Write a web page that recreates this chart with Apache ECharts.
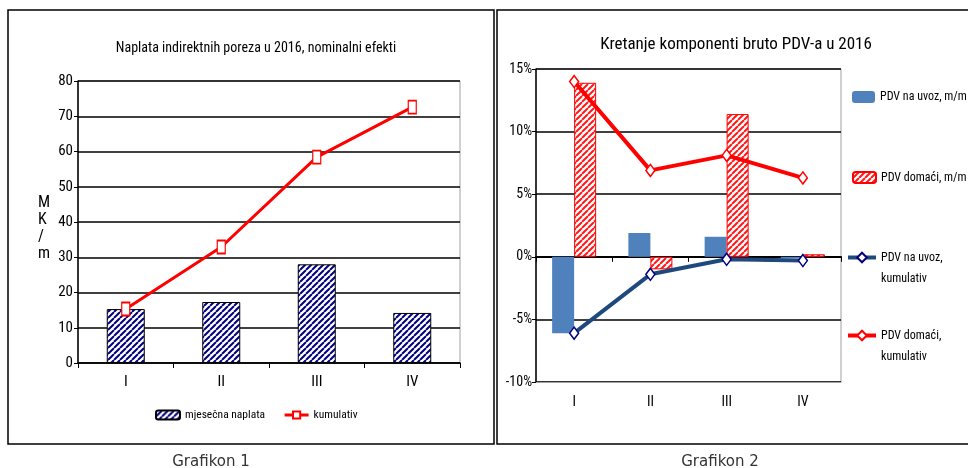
<!DOCTYPE html>
<html>
<head>
<meta charset="utf-8">
<script src="https://cdn.jsdelivr.net/npm/echarts@6/dist/echarts.min.js"></script>
<style>
html,body{margin:0;padding:0;background:#fff;}
#c{width:968px;height:468px;}
</style>
</head>
<body>
<div id="c"></div>
<script>
// ---- data ----
var categories = ['I', 'II', 'III', 'IV'];
var monthlyCollection = [15.3, 17.3, 28.0, 14.2];
var cumulativeCollection = [15.3, 32.9, 58.4, 72.6];
var leftTicks = [0, 80, 10];            // min, max, interval
var importMoM = [-6.1, 1.9, 1.6, -0.1];
var domesticMoM = [13.9, -1.0, 11.4, 0.2];
var importCum = [-6.1, -1.4, -0.2, -0.3];
var domesticCum = [14.0, 6.9, 8.1, 6.3];
var rightTicks = [-10, 15, 5];

var NARROW = "'Roboto Condensed','Liberation Sans',Arial,sans-serif";

function hatch(fg, bg, lw, size) {
  var c = document.createElement('canvas');
  c.width = size; c.height = size;
  var g = c.getContext('2d');
  g.fillStyle = bg; g.fillRect(0, 0, size, size);
  g.strokeStyle = fg; g.lineWidth = lw;
  g.beginPath();
  for (var k = -1; k <= 1; k++) {
    g.moveTo(k * size, size); g.lineTo(k * size + size, 0);
  }
  g.stroke();
  return { image: c, repeat: 'repeat' };
}

var navyHatch = hatch('#000080', '#ffffff', 2, 6);
var redHatch = hatch('#ff1a1a', '#ffffff', 2, 6);

var chart = echarts.init(document.getElementById('c'), null, { renderer: 'canvas' });

var leftLabel = { color: '#000', fontFamily: NARROW, fontSize: 15 };
var rightLabel = { color: '#000', fontFamily: NARROW, fontSize: 14 };

chart.setOption({
  animation: false,
  backgroundColor: '#fff',
  title: [
    { text: 'Naplata indirektnih poreza u 2016, nominalni efekti', left: 251, top: 36, textAlign: 'center',
      textStyle: { fontFamily: NARROW, fontSize: 14, fontWeight: 'normal', color: '#000' } },
    { text: 'Kretanje komponenti bruto PDV-a u 2016', left: 731, top: 31, textAlign: 'center',
      textStyle: { fontFamily: NARROW, fontSize: 17, fontWeight: 'normal', color: '#000' } },
    { text: 'Grafikon 1', left: 206, top: 450, textAlign: 'center',
      textStyle: { fontFamily: "'DejaVu Sans',sans-serif", fontSize: 15, fontWeight: 'normal', color: '#333' } },
    { text: 'Grafikon 2', left: 715, top: 450, textAlign: 'center',
      textStyle: { fontFamily: "'DejaVu Sans',sans-serif", fontSize: 15, fontWeight: 'normal', color: '#333' } }
  ],
  graphic: [
    { type: 'rect', shape: { x: 8, y: 10, width: 486, height: 434 }, style: { fill: 'none', stroke: '#000', lineWidth: 1.5 }, silent: true },
    { type: 'rect', shape: { x: 497, y: 10, width: 490, height: 434 }, style: { fill: 'none', stroke: '#000', lineWidth: 1.5 }, silent: true },
    { type: 'text', left: 38, top: 194, style: { text: 'M\nK\n/\nm', fontFamily: NARROW, fontSize: 16, lineHeight: 17, fill: '#000', align: 'center' }, silent: true }
  ],
  grid: [
    { left: 78, top: 81, width: 382, height: 282, show: true, borderColor: '#a0a0a0', borderWidth: 1 },
    { left: 536, top: 69, width: 305, height: 313, show: true, borderColor: '#a0a0a0', borderWidth: 1 }
  ],
  legend: [
    { data: ['mjesečna naplata', 'kumulativ'], left: 155, top: 409, itemWidth: 24, itemHeight: 9, itemGap: 18, padding: 0,
      lineStyle: { width: 3 },
      textStyle: { fontFamily: NARROW, fontSize: 11.5, color: '#000' } },
    { data: ['PDV na uvoz, m/m'], left: 852, top: 91, itemWidth: 23, itemHeight: 12, padding: 0,
      textStyle: { fontFamily: NARROW, fontSize: 12, color: '#000' } },
    { data: ['PDV domaći, m/m'], left: 852, top: 171, itemWidth: 23, itemHeight: 11, padding: 0,
      textStyle: { fontFamily: NARROW, fontSize: 12, color: '#000' } },
    { data: ['PDV na uvoz, kumulativ'], left: 846, top: 226, itemWidth: 28, itemHeight: 12, padding: 0,
      lineStyle: { width: 4 },
      formatter: function () { return '\nPDV na uvoz,\nkumulativ'; },
      textStyle: { fontFamily: NARROW, fontSize: 12, lineHeight: 21, color: '#000' } },
    { data: ['PDV domaći, kumulativ'], left: 846, top: 304, itemWidth: 28, itemHeight: 12, padding: 0,
      lineStyle: { width: 4 },
      formatter: function () { return '\nPDV domaći,\nkumulativ'; },
      textStyle: { fontFamily: NARROW, fontSize: 12, lineHeight: 21, color: '#000' } }
  ],
  xAxis: [
    { type: 'category', gridIndex: 0, data: categories,
      axisLine: { lineStyle: { color: '#000', width: 1.5 } },
      axisTick: { show: true, length: 5, lineStyle: { color: '#000' } },
      axisLabel: Object.assign({ margin: 12 }, leftLabel) },
    { type: 'category', gridIndex: 1, data: categories, position: 'bottom',
      axisLine: { onZero: false, lineStyle: { color: '#a0a0a0', width: 1 } },
      axisTick: { show: false },
      axisLabel: Object.assign({ margin: 13 }, rightLabel) },
    { type: 'category', gridIndex: 1, data: categories, position: 'bottom',
      axisLine: { onZero: true, lineStyle: { color: '#000', width: 2 } },
      axisTick: { show: true, length: 5, lineStyle: { color: '#000' } },
      axisLabel: { show: false } }
  ],
  yAxis: [
    { type: 'value', gridIndex: 0, min: leftTicks[0], max: leftTicks[1], interval: leftTicks[2],
      axisLine: { show: true, lineStyle: { color: '#000', width: 1.5 } },
      axisTick: { show: true, length: 4, lineStyle: { color: '#000' } },
      axisLabel: Object.assign({ margin: 5 }, leftLabel),
      splitLine: { show: true, lineStyle: { color: '#000', width: 1.6 } } },
    { type: 'value', gridIndex: 1, min: rightTicks[0], max: rightTicks[1], interval: rightTicks[2],
      axisLine: { show: true, onZero: false, lineStyle: { color: '#000', width: 1.5 } },
      axisTick: { show: true, length: 4, lineStyle: { color: '#000' } },
      axisLabel: Object.assign({ margin: 4, formatter: '{value}%' }, rightLabel),
      splitLine: { show: true, lineStyle: { color: '#000', width: 1.6 } } }
  ],
  series: [
    { name: 'mjesečna naplata', type: 'bar', xAxisIndex: 0, yAxisIndex: 0, data: monthlyCollection,
      barWidth: 38, itemStyle: { color: navyHatch, borderColor: '#000', borderWidth: 1 } },
    { name: 'kumulativ', type: 'line', xAxisIndex: 0, yAxisIndex: 0, data: cumulativeCollection,
      lineStyle: { color: '#ff0000', width: 3 }, symbol: 'rect', symbolSize: [8, 13],
      itemStyle: { color: '#ffffff', borderColor: '#ff0000', borderWidth: 1.5 } },
    { name: 'PDV na uvoz, m/m', type: 'bar', xAxisIndex: 1, yAxisIndex: 1, data: importMoM,
      barWidth: 22, barGap: '0%', itemStyle: { color: '#4f81bd' } },
    { name: 'PDV domaći, m/m', type: 'bar', xAxisIndex: 1, yAxisIndex: 1, data: domesticMoM,
      barWidth: 22, barGap: '0%', itemStyle: { color: redHatch, borderColor: '#ff0000', borderWidth: 1 } },
    { name: 'PDV na uvoz, kumulativ', type: 'line', xAxisIndex: 1, yAxisIndex: 1, data: importCum,
      lineStyle: { color: '#1f497d', width: 4 }, symbol: 'diamond', symbolSize: [9, 12],
      itemStyle: { color: '#ffffff', borderColor: '#000080', borderWidth: 1.5 } },
    { name: 'PDV domaći, kumulativ', type: 'line', xAxisIndex: 1, yAxisIndex: 1, data: domesticCum,
      lineStyle: { color: '#ff0000', width: 4 }, symbol: 'diamond', symbolSize: [9, 12],
      itemStyle: { color: '#ffffff', borderColor: '#ff0000', borderWidth: 1.5 } }
  ]
});
</script>
</body>
</html>
